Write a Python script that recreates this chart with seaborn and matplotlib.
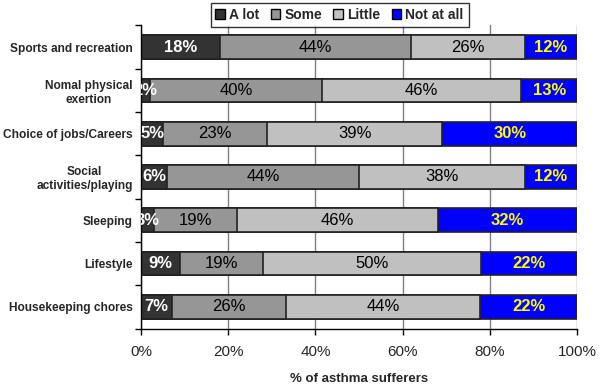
import matplotlib
matplotlib.use('Agg')
import matplotlib.pyplot as plt
from matplotlib.patches import Patch
from matplotlib.ticker import FixedLocator
import seaborn as sns
import pandas as pd

activities = ["Sports and recreation", "Nomal physical\nexertion", "Choice of jobs/Careers",
              "Social\nactivities/playing", "Sleeping", "Lifestyle", "Housekeeping chores"]
levels = ["A lot", "Some", "Little", "Not at all"]
a_lot = [18, 2, 5, 6, 3, 9, 7]
some = [44, 40, 23, 44, 19, 19, 26]
little = [26, 46, 39, 38, 46, 50, 44]
not_at_all = [12, 13, 30, 12, 32, 22, 22]
x_ticks = [0, 20, 40, 60, 80, 100]

colors = ["#333333", "#969696", "#c0c0c0", "#0000ff"]
text_colors = ["white", "black", "black", "#ffff00"]
text_weights = ["bold", "normal", "normal", "bold"]

sns.set_style("white")
plt.rcParams['font.family'] = ['Liberation Sans', 'DejaVu Sans']

raw = pd.DataFrame({"A lot": a_lot, "Some": some, "Little": little, "Not at all": not_at_all},
                   index=activities)
# 100% stacked: rows are scaled to a total of 100
share = raw.div(raw.sum(axis=1), axis=0) * 100
cum = share.cumsum(axis=1)

fig = plt.figure(figsize=(6, 3.89), dpi=100)
ax = fig.add_axes([0.235, 0.1555, 0.727, 0.779])

# draw cumulative totals back to front so each segment shows
for lvl, col in reversed(list(zip(levels, colors))):
    sns.barplot(x=cum[lvl].values, y=activities, orient='h', color=col, saturation=1,
                width=0.55, edgecolor='#222222', linewidth=1.2, ax=ax, zorder=2)

for i, lvl in enumerate(levels):
    for j, act in enumerate(activities):
        xc = cum.loc[act, lvl] - share.loc[act, lvl] / 2
        ax.text(xc, j, f"{raw.loc[act, lvl]}%", ha='center', va='center',
                color=text_colors[i], fontweight=text_weights[i], fontsize=12,
                clip_on=True, zorder=3)

ax.set_xlim(0, 100)
ax.set_ylim(6.5, -0.5)
ax.set_xticks(x_ticks)
ax.set_xticklabels([f"{t}%" for t in x_ticks])
ax.xaxis.grid(True, color='#808080', linewidth=1)
ax.set_axisbelow(True)

ax.tick_params(axis='x', length=4, width=1, color='black', direction='out',
               labelsize=11, pad=8, bottom=True)
ax.tick_params(axis='y', which='major', length=0, pad=6, labelsize=8.6)
for lab in ax.get_yticklabels():
    lab.set_fontweight('bold')
    lab.set_multialignment('center')
ax.yaxis.set_minor_locator(FixedLocator([k - 0.5 for k in range(len(activities) + 1)]))
ax.tick_params(axis='y', which='minor', length=4, width=1, color='black', direction='out', left=True)

for side in ['top', 'right']:
    ax.spines[side].set_visible(False)
for side in ['left', 'bottom']:
    ax.spines[side].set_color('black')
    ax.spines[side].set_linewidth(1)

ax.set_ylabel("")
ax.set_xlabel("% of asthma sufferers", fontsize=9.5, fontweight='bold', labelpad=10)

handles = [Patch(facecolor=c, edgecolor='black', label=l) for l, c in zip(levels, colors)]
leg = fig.legend(handles=handles, ncol=4, loc='center', bbox_to_anchor=(0.566, 0.961),
                 frameon=True, fancybox=False, edgecolor='black', handlelength=0.7,
                 handleheight=0.7, handletextpad=0.3, columnspacing=0.8, borderpad=0.35,
                 prop={'weight': 'bold', 'size': 10})
leg.get_frame().set_linewidth(1)

fig.savefig("out.png", dpi=100)
